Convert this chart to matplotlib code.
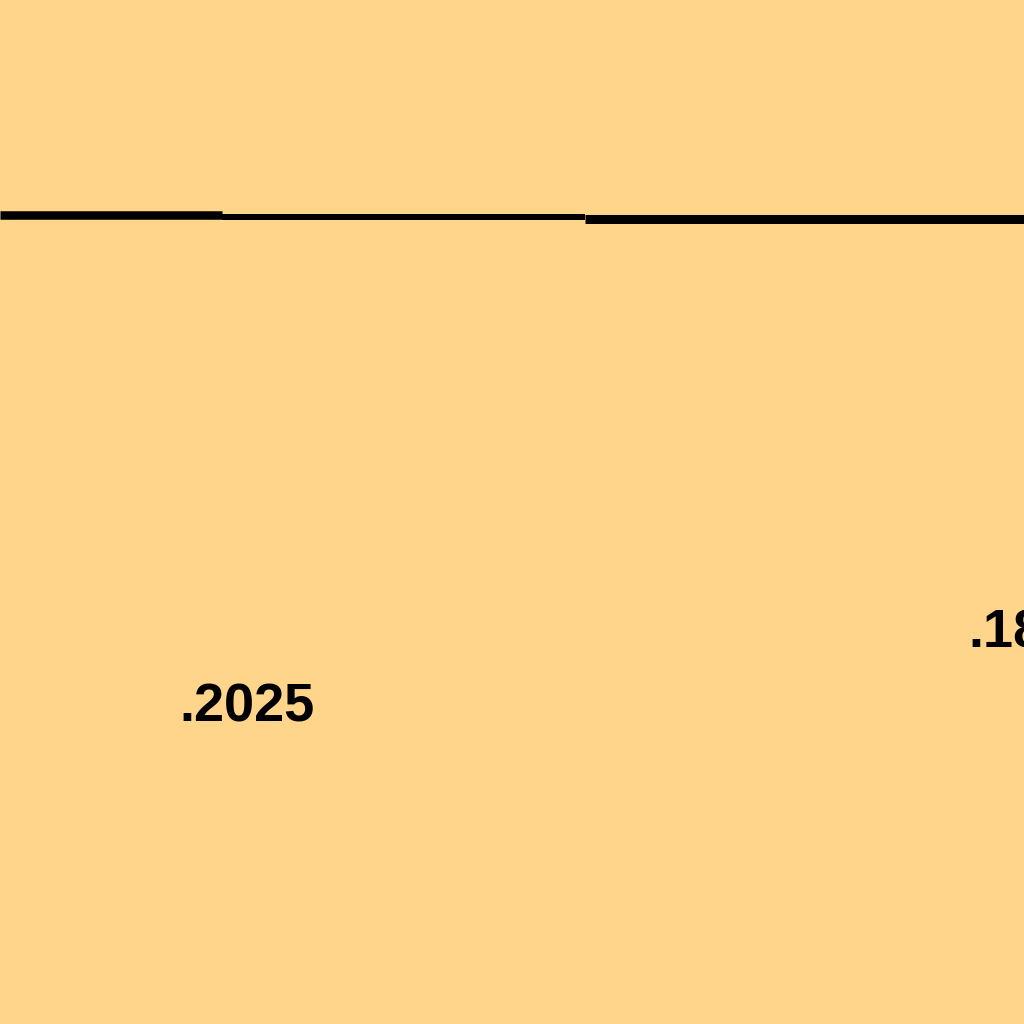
import matplotlib
matplotlib.use("Agg")
import matplotlib.pyplot as plt

# Data (pixel-space coordinates of the zoomed view)
step_edges = [0, 222, 585, 1024]
step_levels = [215.3, 217.0, 218.5]
step_widths_px = [8.5, 6.0, 9.0]
label_texts = [".2025", ".18"]
label_x = [179, 968]
label_y = [721, 648]

bg = "#FFD48B"

fig = plt.figure(figsize=(10.24, 10.24), dpi=100, facecolor=bg)
ax = fig.add_axes([0, 0, 1, 1])
ax.set_facecolor(bg)
ax.set_xlim(0, 1024)
ax.set_ylim(1024, 0)
ax.axis("off")

for i, lvl in enumerate(step_levels):
    ax.hlines(lvl, step_edges[i], step_edges[i + 1], color="black",
              linewidth=step_widths_px[i] * 0.72, capstyle="butt")

for t, x, y in zip(label_texts, label_x, label_y):
    ax.text(x, y, t, ha="left", va="baseline", fontsize=39,
            fontweight="bold", family=["Liberation Sans", "DejaVu Sans"],
            color="black", clip_on=False)

fig.savefig("out.png", dpi=100, facecolor=bg)
